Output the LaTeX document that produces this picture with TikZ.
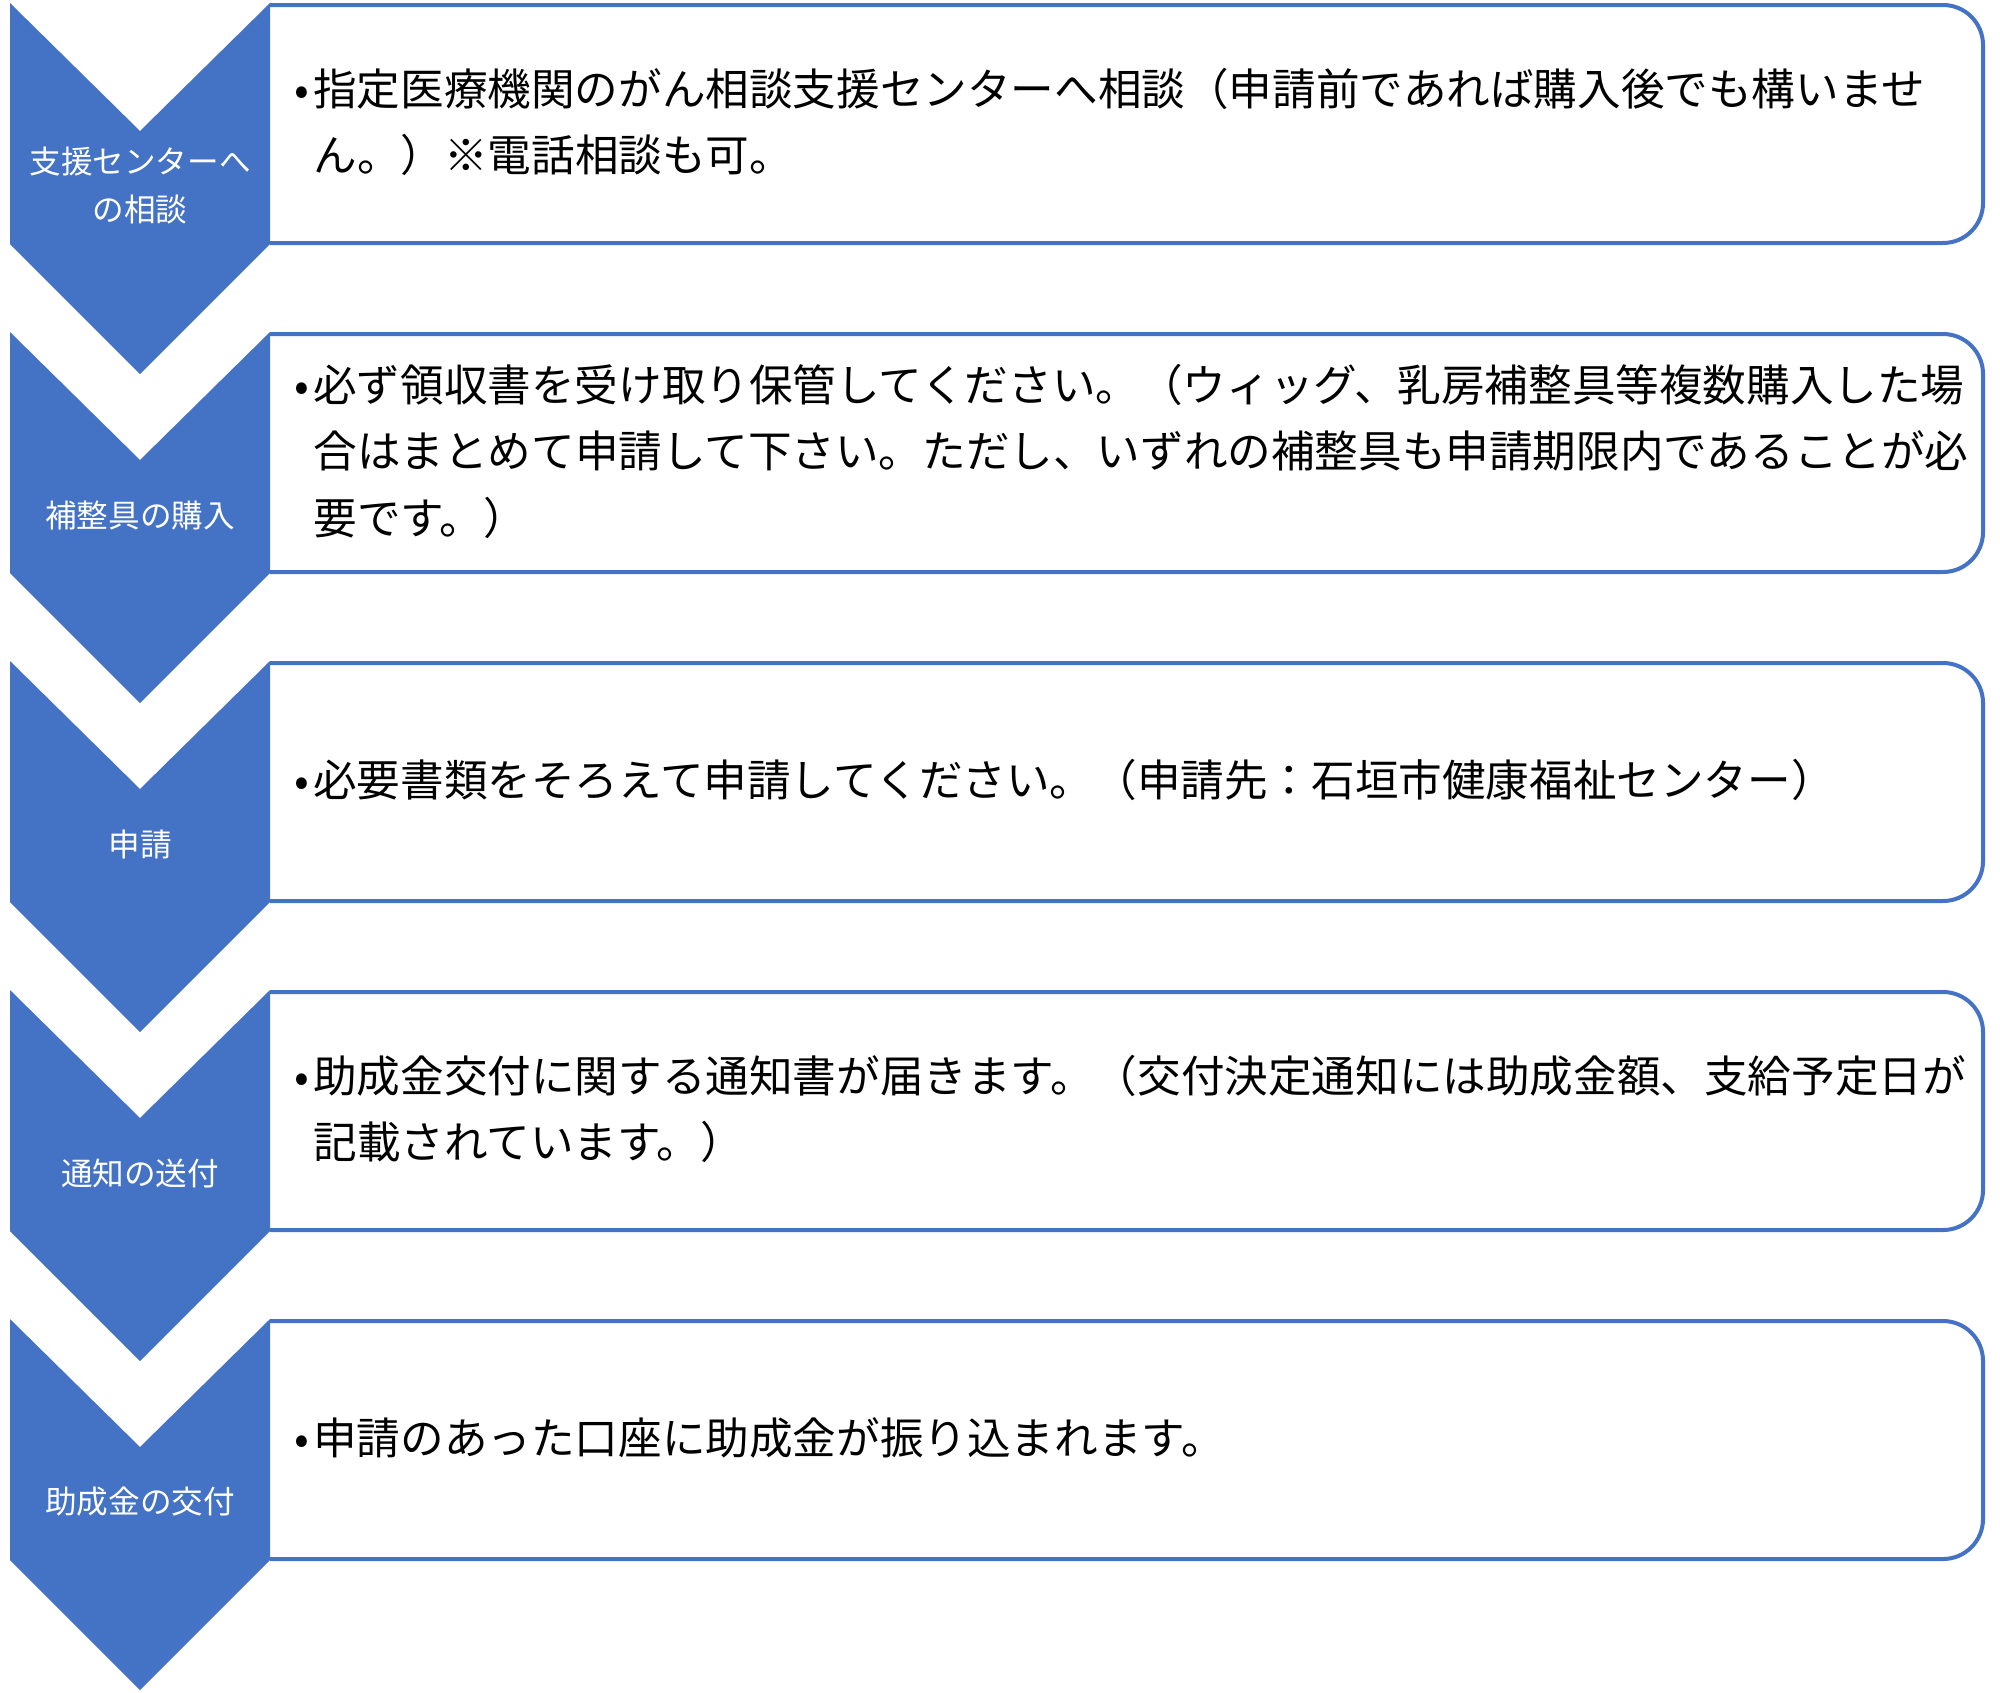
\documentclass[tikz,border=0pt]{standalone}
\usepackage{fontspec}
\setmainfont{Noto Sans CJK JP}
\definecolor{obl}{HTML}{4472C4}
\begin{document}
\begin{tikzpicture}[x=0.5pt,y=-0.5pt,
  chev/.style={fill=obl, draw=none},
  boxline/.style={draw=obl, line width=2pt, rounded corners=20pt},
  lbl/.style={text=white, align=center, font=\fontsize{15.8}{24}\selectfont, inner sep=0pt},
  txt/.style={text=black, align=left, anchor=west, font=\fontsize{21.8}{33.25}\selectfont, inner sep=0pt}]
\useasboundingbox (0,0) rectangle (2000,1692);
\foreach \i in {0,...,4} {
  \pgfmathsetmacro\T{3+329*\i}
  \draw[boxline] (270,\T+2) -- (1983,\T+2) -- (1983,\T+240) -- (270,\T+240);
  \fill[chev] (10,\T) -- (140,\T+128) -- (270,\T) -- (270,\T+241) -- (140,\T+371) -- (10,\T+241) -- cycle;
}
\node[lbl] (l1) at (140,186) {支援センターへ\\の相談};
\node[lbl] (l2) at (140,515) {補整具の購入};
\node[lbl] (l3) at (140,844) {申請};
\node[lbl] (l4) at (140,1173) {通知の送付};
\node[lbl] (l5) at (140,1502) {助成金の交付};
\node[txt] (t1) at (313,122) {\llap{\makebox[11pt][c]{•}}指定医療機関のがん相談支援センターへ相談（申請前であれば購入後でも構いませ\\ん。）※電話相談も可。};
\node[txt] (t2) at (313,451) {\llap{\makebox[11pt][c]{•}}必ず領収書を受け取り保管してください。（ウィッグ、乳房補整具等複数購入した場\\合はまとめて申請して下さい。ただし、いずれの補整具も申請期限内であることが必\\要です。）};
\node[txt] (t3) at (313,780) {\llap{\makebox[11pt][c]{•}}必要書類をそろえて申請してください。（申請先：石垣市健康福祉センター）};
\node[txt] (t4) at (313,1109) {\llap{\makebox[11pt][c]{•}}助成金交付に関する通知書が届きます。（交付決定通知には助成金額、支給予定日が\\記載されています。）};
\node[txt] (t5) at (313,1438) {\llap{\makebox[11pt][c]{•}}申請のあった口座に助成金が振り込まれます。};
\end{tikzpicture}
\end{document}
